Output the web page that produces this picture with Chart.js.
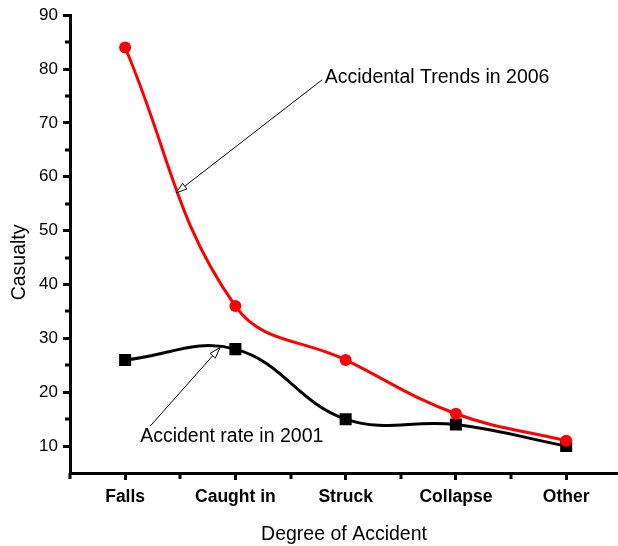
<!DOCTYPE html>
<html>
<head>
<meta charset="utf-8">
<script src="https://cdn.jsdelivr.net/npm/chart.js@4"></script>
<style>
  body { margin: 0; background: #fff; }
  canvas { display: block; }
</style>
</head>
<body>
<canvas id="chart" width="618" height="546"></canvas>
<script>
const categories = ['Falls', 'Caught in', 'Struck', 'Collapse', 'Other'];
const trends2006 = [84, 36, 26, 16, 11];
const rate2001 = [26, 28, 15, 14, 10];
const yTickValues = [10, 20, 30, 40, 50, 60, 70, 80, 90];

const FONT = "'Liberation Sans', Arial, sans-serif";

function toPoints(values) {
  return values.map((v, i) => ({ x: i + 1, y: v }));
}

// annotation callouts, in data coordinates
const callouts = [
  { text: 'Accidental Trends in 2006', tx: 2.81, ty: 78.4, from: [2.786, 78.0], to: [1.462, 57.0] },
  { text: 'Accident rate in 2001', tx: 1.136, ty: 11.7, from: [1.227, 13.7], to: [1.861, 28.3] }
];

const extras = {
  id: 'extras',
  afterDraw(chart) {
    const ctx = chart.ctx;
    const xs = chart.scales.x;
    const ys = chart.scales.y;
    const area = chart.chartArea;
    ctx.save();
    ctx.strokeStyle = '#000';
    ctx.lineWidth = 3;
    // minor ticks
    [0.5, 1.5, 2.5, 3.5, 4.5].forEach(v => {
      const px = Math.round(xs.getPixelForValue(v));
      ctx.beginPath();
      ctx.moveTo(px, area.bottom);
      ctx.lineTo(px, area.bottom + 6);
      ctx.stroke();
    });
    [15, 25, 35, 45, 55, 65, 75, 85].forEach(v => {
      const py = Math.round(ys.getPixelForValue(v));
      ctx.beginPath();
      ctx.moveTo(area.left, py);
      ctx.lineTo(area.left - 5, py);
      ctx.stroke();
    });

    // y axis title
    ctx.fillStyle = '#000';
    ctx.font = '19.5px ' + FONT;
    ctx.textAlign = 'center';
    ctx.textBaseline = 'middle';
    ctx.translate(20, area.top + (area.bottom - area.top) * 0.54);
    ctx.rotate(-Math.PI / 2);
    ctx.fillText('Casualty', 0, 0);
    ctx.restore();

    // callouts
    ctx.save();
    ctx.strokeStyle = '#000';
    ctx.fillStyle = '#000';
    ctx.lineWidth = 1;
    ctx.font = '19.5px ' + FONT;
    ctx.textAlign = 'left';
    ctx.textBaseline = 'middle';
    callouts.forEach(c => {
      const x1 = xs.getPixelForValue(c.from[0]), y1 = ys.getPixelForValue(c.from[1]);
      const x2 = xs.getPixelForValue(c.to[0]), y2 = ys.getPixelForValue(c.to[1]);
      const ang = Math.atan2(y2 - y1, x2 - x1);
      const len = 11, hw = 3.5;
      const bx = x2 - len * Math.cos(ang), by = y2 - len * Math.sin(ang);
      ctx.beginPath();
      ctx.moveTo(x1, y1);
      ctx.lineTo(bx, by);
      ctx.stroke();
      ctx.beginPath();
      ctx.moveTo(x2, y2);
      ctx.lineTo(bx + hw * Math.sin(ang), by - hw * Math.cos(ang));
      ctx.lineTo(bx - hw * Math.sin(ang), by + hw * Math.cos(ang));
      ctx.closePath();
      ctx.fillStyle = '#fff';
      ctx.fill();
      ctx.stroke();
      ctx.fillStyle = '#000';
      ctx.fillText(c.text, xs.getPixelForValue(c.tx), ys.getPixelForValue(c.ty));
    });
    ctx.restore();
  }
};

new Chart(document.getElementById('chart'), {
  type: 'line',
  data: {
    datasets: [
      {
        label: 'Accidental Trends in 2006',
        data: toPoints(trends2006),
        borderColor: '#ff0000',
        backgroundColor: '#ff0000',
        borderWidth: 3,
        pointStyle: 'circle',
        pointRadius: 6,
        pointBorderWidth: 0,
        tension: 0.4
      },
      {
        label: 'Accident rate in 2001',
        data: toPoints(rate2001),
        borderColor: '#000000',
        backgroundColor: '#000000',
        borderWidth: 3,
        pointStyle: 'rect',
        pointRadius: 8.5,
        pointBorderWidth: 0,
        tension: 0.4
      }
    ]
  },
  options: {
    responsive: false,
    animation: false,
    layout: { autoPadding: false, padding: { top: 14, right: 0, left: 0, bottom: 0 } },
    plugins: {
      legend: { display: false },
      tooltip: { enabled: false }
    },
    scales: {
      x: {
        type: 'linear',
        min: 0.5,
        max: 5.47,
        afterBuildTicks: s => { s.ticks = categories.map((c, i) => ({ value: i + 1 })); },
        afterFit: s => { s.height = 73; s.paddingLeft = 0; s.paddingRight = 0; },
        border: { display: true, color: '#000', width: 3 },
        grid: { drawOnChartArea: false, drawTicks: true, tickLength: 7, tickWidth: 3, tickColor: '#000' },
        ticks: {
          color: '#000',
          padding: 7,
          maxRotation: 0,
          autoSkip: false,
          font: { family: FONT, size: 17.5, weight: 'bold' },
          callback: v => categories[Math.round(v) - 1] || ''
        },
        title: {
          display: true,
          text: 'Degree of Accident',
          color: '#000',
          font: { family: FONT, size: 19.5 },
          padding: { top: 19, bottom: 0 }
        }
      },
      y: {
        min: 5,
        max: 90,
        afterBuildTicks: s => { s.ticks = yTickValues.map(v => ({ value: v })); },
        afterFit: s => { s.width = 70; },
        border: { display: true, color: '#000', width: 3 },
        grid: { drawOnChartArea: false, drawTicks: true, tickLength: 7, tickWidth: 3, tickColor: '#000' },
        ticks: {
          color: '#000',
          padding: 5,
          font: { family: FONT, size: 17 }
        }
      }
    }
  },
  plugins: [extras]
});
</script>
</body>
</html>
